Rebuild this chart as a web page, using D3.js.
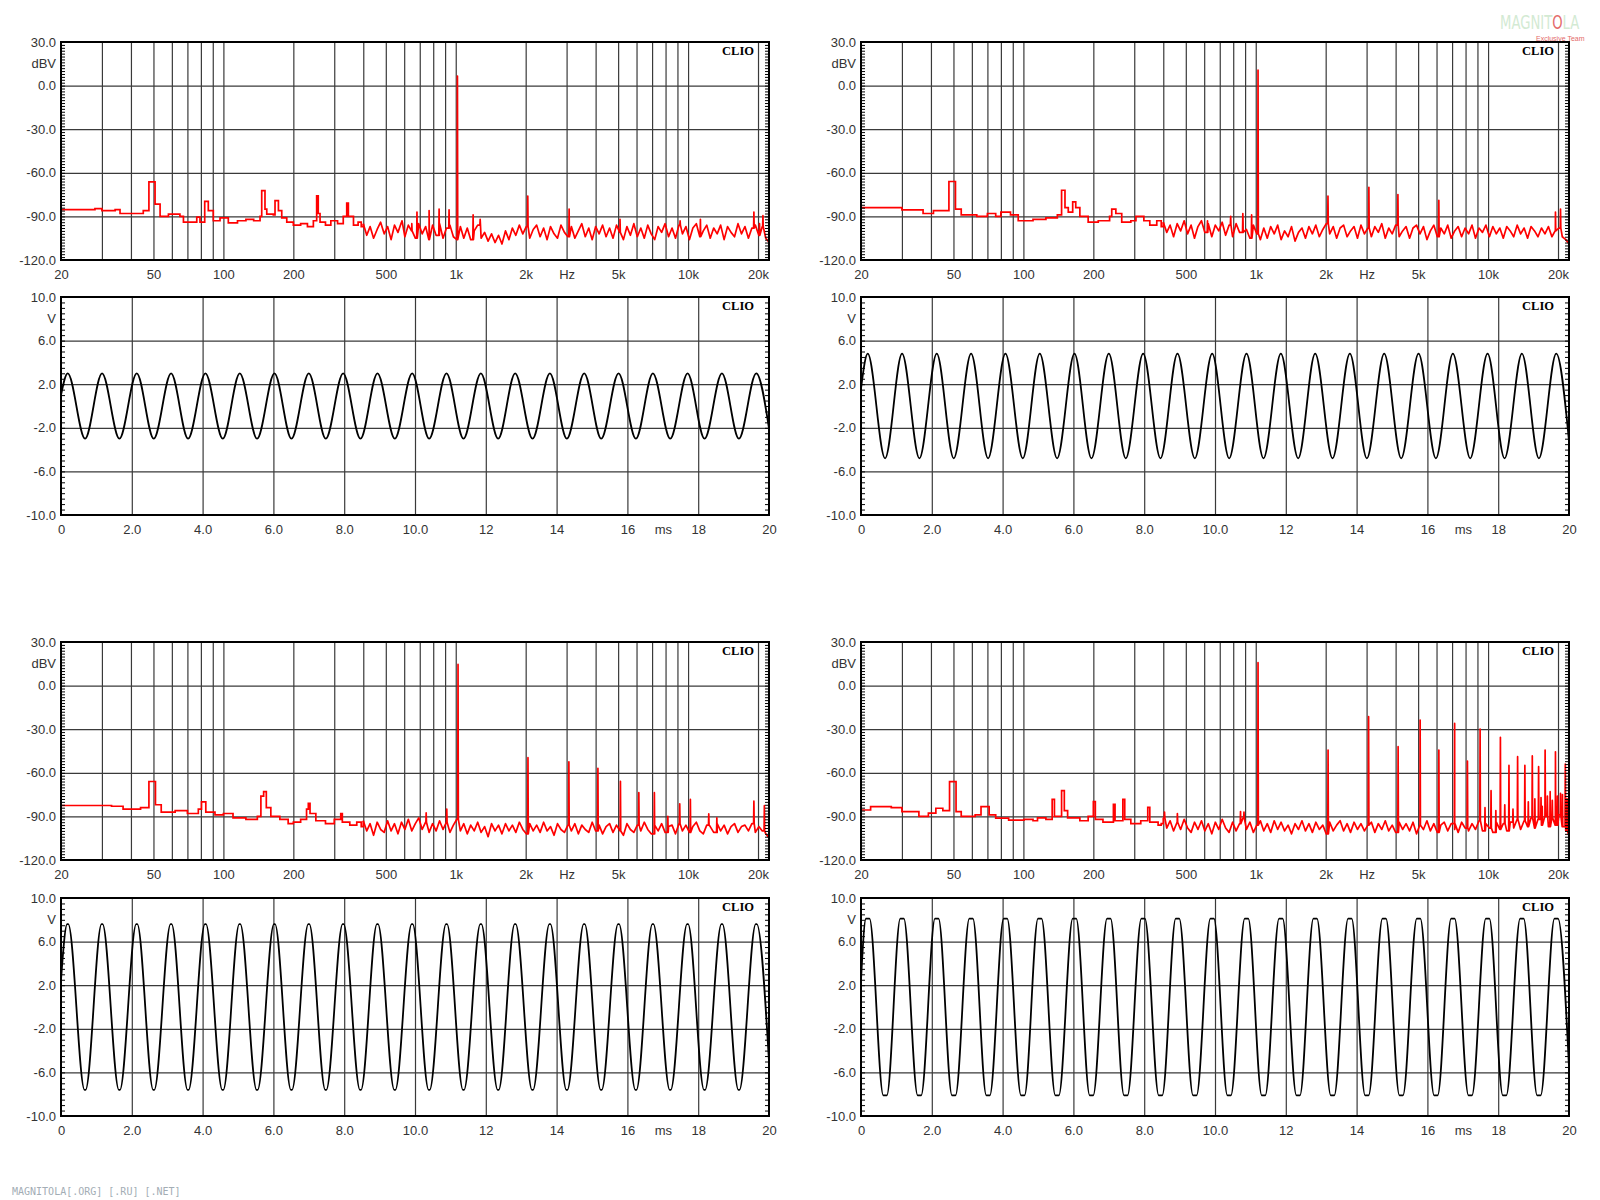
<!DOCTYPE html>
<html>
<head>
<meta charset="utf-8">
<script src="https://cdn.jsdelivr.net/npm/d3@7"></script>
<style>
  body { margin: 0; background: #fff; }
  svg { display: block; }
  .lbl text { font-family: "Liberation Sans", Arial, sans-serif; font-size: 13px; fill: #333; }
  .grid line { stroke: #3a3a3a; stroke-width: 1.2; }
  .minor line { stroke: #000; stroke-width: 1; }
  .clio { font-family: "Liberation Serif", "Times New Roman", serif; font-weight: bold; font-size: 12.5px; fill: #000; }
  .footer { font-family: "DejaVu Sans Mono", monospace; font-size: 10px; fill: #a3adb5; }
</style>
</head>
<body>
<svg id="chart" width="1600" height="1200"></svg>
<script>
// ---- axes / ticks ----
const freqGrid = [30, 40, 50, 60, 70, 80, 90, 100, 200, 300, 400, 500, 600, 700, 800, 900,
  1000, 2000, 3000, 4000, 5000, 6000, 7000, 8000, 9000, 10000, 20000];
const freqLabels = [[20, '20'], [50, '50'], [100, '100'], [200, '200'], [500, '500'], [1000, '1k'],
  [2000, '2k'], [3000, 'Hz'], [5000, '5k'], [10000, '10k'], [20000, '20k']];
const dbGrid = [0, -30, -60, -90];
const dbLabels = [[30, '30.0'], [15, 'dBV'], [0, '0.0'], [-30, '-30.0'], [-60, '-60.0'], [-90, '-90.0'], [-120, '-120.0']];
const timeGrid = [2, 4, 6, 8, 10, 12, 14, 16, 18];
const timeLabels = [[0, '0'], [2, '2.0'], [4, '4.0'], [6, '6.0'], [8, '8.0'], [10, '10.0'], [12, '12'],
  [14, '14'], [16, '16'], [17, 'ms'], [18, '18'], [20, '20']];
const voltGrid = [6, 2, -2, -6];
const voltLabels = [[10, '10.0'], [8, 'V'], [6, '6.0'], [2, '2.0'], [-2, '-2.0'], [-6, '-6.0'], [-10, '-10.0']];

// ---- spectrum data (Hz, dBV) ----
// shared sampling frequencies of the noise floor above 400 Hz
const noiseFreqs = [400, 414, 428, 443, 459, 475, 492, 509, 527, 545,
  564, 584, 604, 625, 647, 670, 693, 717, 742, 768,
  795, 823, 852, 882, 912, 944, 977, 1011, 1047, 1083,
  1121, 1160, 1201, 1243, 1286, 1331, 1378, 1426, 1476, 1528,
  1581, 1637, 1694, 1753, 1814, 1878, 1944, 2012, 2082, 2155,
  2230, 2308, 2389, 2473, 2559, 2649, 2741, 2837, 2937, 3039,
  3146, 3256, 3370, 3488, 3610, 3736, 3867, 4002, 4142, 4287,
  4437, 4593, 4753, 4920, 5092, 5270, 5455, 5646, 5843, 6048,
  6259, 6478, 6705, 6940, 7183, 7434, 7694, 7964, 8242, 8531,
  8829, 9138, 9458, 9789, 10132, 10487, 10854, 11234, 11627, 12034,
  12455, 12891, 13342, 13809, 14292, 14793, 15310, 15846, 16401, 16975,
  17569, 18184, 18820, 19479, 20161, 20866, 21597, 22353];

// top-left
const tlLow = [[20, -85.4], [28, -84.7], [30, -86], [34.2, -85.4], [35.9, -88], [45.2, -86], [47.8, -66.2],
  [50.8, -81.5], [53.4, -90], [58, -88.4], [65, -90], [67.3, -94], [76.8, -90.5], [79.3, -94], [83.1, -79.7],
  [86.1, -86], [90.5, -93], [96.7, -91], [105, -94.5], [115, -93], [125, -92], [135, -93], [143.8, -90],
  [146.2, -72.3], [151, -85], [153.7, -88.4], [164, -89], [166.8, -79.2], [172.5, -86], [178.3, -91],
  [187.4, -94], [200, -96], [215, -95], [230, -97], [243.9, -93], [252, -75.8], [256, -88], [260.6, -94],
  [275, -96], [290, -93], [310, -95], [328, -90], [339.5, -80.8], [345, -90], [363, -96], [380, -94], [392, -97]];
const tlNoise = [-95, -103, -97, -105, -99, -94, -102, -97, -106, -96,
  -101, -94, -104, -96, -100, -105, -95, -102, -97, -106,
  -96, -103, -95, -105, -98, -96, -104, -106, -97, -105,
  -98, -106, -100, -96, -105, -101, -107, -102, -108, -103,
  -109, -100, -106, -98, -103, -96, -102, -97, -105, -99,
  -96, -104, -98, -106, -97, -102, -105, -96, -101, -104,
  -97, -105, -100, -95, -104, -98, -106, -97, -102, -96,
  -104, -98, -105, -96, -101, -106, -97, -103, -95, -104,
  -98, -105, -96, -102, -106, -97, -101, -95, -104, -98,
  -105, -96, -102, -97, -106, -98, -95, -104, -100, -96,
  -105, -98, -102, -96, -106, -97, -101, -104, -95, -102,
  -97, -105, -98, -96, -103, -97, -105, -108];
const tlSpikes = [[587, -93], [647, -95], [681, -87], [768, -86], [848, -85], [936, -85.5], [1017, 6.6],
  [1188, -89], [1274, -92], [2042, -76], [3076, -85], [5094, -92], [9240, -93], [11300, -92],
  [19200, -87], [20300, -95], [21000, -89.5]];

// top-right
const trLow = [[20, -84], [30, -85.5], [37, -88], [41, -86], [47.8, -66], [51, -85], [54, -89], [63, -90],
  [70, -88], [76, -90], [80, -87], [88, -89], [95, -93], [110, -92], [125, -91], [140, -89], [146, -72],
  [151, -84], [156, -87], [163, -80], [168, -84], [175, -90], [190, -94], [210, -93], [235, -90], [240, -85],
  [250, -88], [265, -94], [290, -93], [305, -90], [330, -93], [350, -96], [375, -93], [392, -97]];
const trNoise = [-94, -101, -96, -104, -95, -100, -93, -102, -96, -105,
  -97, -93, -101, -95, -104, -96, -100, -94, -103, -96,
  -104, -95, -101, -94, -99, -105, -96, -102, -106, -98,
  -105, -97, -102, -96, -106, -100, -104, -97, -107, -101,
  -98, -105, -97, -102, -96, -104, -99, -95, -102, -97,
  -105, -98, -96, -104, -100, -97, -105, -96, -102, -98,
  -104, -97, -101, -95, -105, -98, -102, -96, -104, -100,
  -97, -105, -98, -96, -102, -97, -106, -100, -96, -104,
  -98, -102, -96, -105, -100, -97, -104, -98, -102, -96,
  -105, -98, -101, -96, -104, -97, -102, -98, -105, -97,
  -100, -104, -96, -102, -98, -105, -97, -100, -104, -98,
  -102, -97, -104, -100, -98, -104, -106, -109];
const trSpikes = [[620, -93], [780, -90], [880, -88], [960, -89], [1023, 10.6], [2046, -76], [3069, -70],
  [4092, -75], [6138, -79], [19500, -87], [20500, -85]];

// bottom-left
const blLow = [[20, -82.5], [33, -83], [37, -85], [44, -84], [47.8, -66], [51, -82], [54, -87], [62, -86],
  [70, -88], [78, -85], [80.5, -80], [84, -87], [92, -89], [100, -88], [110, -91], [125, -92], [140, -90],
  [145, -76], [149, -73], [153, -84], [160, -90], [175, -92], [190, -95], [200, -94], [215, -92], [228, -85],
  [232, -81], [236, -88], [250, -93], [275, -95], [300, -92], [320, -88], [325, -94], [350, -96], [375, -94], [392, -97]];
const blNoise = [-93, -100, -95, -103, -94, -99, -101, -93, -100, -95,
  -102, -94, -99, -92, -100, -95, -91, -99, -94, -101,
  -95, -100, -93, -99, -94, -101, -96, -92, -100, -95,
  -102, -96, -100, -94, -101, -97, -104, -95, -100, -96,
  -102, -95, -100, -96, -101, -94, -99, -102, -95, -100,
  -96, -101, -94, -100, -97, -103, -95, -99, -101, -96,
  -100, -95, -102, -96, -99, -101, -94, -100, -96, -102,
  -97, -95, -101, -96, -100, -103, -95, -99, -101, -96,
  -100, -94, -99, -102, -96, -100, -95, -101, -97, -96,
  -102, -95, -100, -96, -101, -97, -94, -100, -102, -96,
  -97, -101, -95, -100, -96, -102, -97, -95, -101, -97,
  -96, -100, -95, -101, -97, -100, -102, -105];
const blSpikes = [[746, -87.6], [915, -85], [1023, 14.6], [2046, -49.6], [3069, -52.4], [4092, -56.9],
  [5115, -65.9], [6138, -73.7], [7161, -73.7], [8184, -90], [9207, -81.3], [10230, -78.3], [12276, -88.3],
  [13300, -91], [19200, -79.5], [21300, -82.6]];

// bottom-right
const brLow = [[20, -85.6], [22, -83.3], [27, -84], [30, -86.7], [35.5, -90], [39, -87.8], [42, -84.4], [45, -86],
  [48.1, -66.1], [51.3, -86.7], [54, -90], [62, -89], [65.7, -83.3], [71.2, -89], [76, -91.2], [86.4, -92.5],
  [100.6, -92], [110, -93], [115, -91], [125, -92], [133, -78.3], [136, -90], [146, -72.3], [150, -86],
  [155, -91], [175, -93], [190, -90], [200, -79.9], [204, -92], [220, -94], [244, -81.7], [248, -93],
  [268, -78.3], [273, -92], [290, -95], [320, -93], [343, -83.8], [350, -94], [380, -96], [392, -95]];
const brNoise = [-91, -98, -93, -100, -94, -99, -92, -98, -101, -94,
  -99, -93, -100, -95, -102, -94, -99, -92, -98, -101,
  -94, -100, -95, -91, -99, -94, -101, -96, -93, -100,
  -95, -101, -93, -99, -94, -100, -96, -102, -95, -99,
  -93, -100, -95, -101, -94, -99, -96, -102, -94, -100,
  -96, -93, -100, -95, -101, -94, -99, -95, -100, -96,
  -94, -101, -95, -99, -93, -100, -96, -101, -94, -99,
  -95, -100, -94, -102, -96, -99, -93, -100, -95, -101,
  -96, -94, -100, -95, -99, -101, -94, -98, -100, -95,
  -99, -93, -100, -95, -98, -101, -94, -99, -95, -100,
  -94, -98, -92, -99, -93, -97, -91, -98, -92, -96,
  -90, -97, -91, -96, -89, -97, -100, -104];
const brSpikes = [[405, -87], [460, -88], [860, -86.7], [890, -87], [1023, 15.8], [2048, -44.3], [3060, -21.4],
  [4100, -42], [5100, -23.7], [6140, -44.3], [7180, -26], [8150, -51.9], [9240, -29.9], [10300, -72.3],
  [11300, -35.6], [12300, -54.9], [13400, -48.9], [14400, -54.9], [15500, -48.4], [16500, -55.8],
  [17600, -44.3], [18500, -73], [19500, -45.5], [20500, -74.1], [21500, -54],
  [9700, -84], [10800, -86], [11800, -82], [12800, -85], [14900, -80], [15900, -78], [16900, -77],
  [17100, -83], [18000, -76], [18900, -79], [19900, -76], [20900, -75], [21900, -78]];

// ---- waveform data (ms, V) : extrema ----
const peakTimes = [0.19, 1.16, 2.14, 3.11, 4.08, 5.05, 6.03, 7.00, 7.97, 8.94, 9.92, 10.89, 11.86,
  12.83, 13.81, 14.78, 15.75, 16.72, 17.70, 18.67, 19.64];
const troughTimes = [0.68, 1.65, 2.62, 3.59, 4.57, 5.54, 6.51, 7.48, 8.46, 9.43, 10.40, 11.37, 12.35,
  13.32, 14.29, 15.26, 16.24, 17.21, 18.18, 19.15];
const waveAmplitude = { tl: 3.0, tr: 4.8, bl: 7.6, br: 8.1 };
const waveStart = { tl: 1.0, tr: 1.6, bl: 2.5, br: 2.5 };
const waveEnd = { tl: -2.05, tr: -3.2, bl: -5.0, br: -5.5 };
const wavePlateau = { tl: 0, tr: 0, bl: 0.03, br: 0.1 }; // width (ms) of flattened tops

// ---- layout ----
const W = 708, H = 218;
const svg = d3.select('#chart');
const defs = svg.append('defs');

function addGrid(g, axis) {
  const a = g.append('g').attr('class', 'grid').call(axis);
  a.select('.domain').remove();
  a.selectAll('text').remove();
}

function addLabels(g, axis) {
  const a = g.append('g').attr('class', 'lbl').call(axis);
  a.select('.domain').remove();
  a.selectAll('line').remove();
}

function frame(g, id, y) {
  // minor ticks on the left / right borders
  const minor = y.ticks(50);
  const l = g.append('g').attr('class', 'minor').call(d3.axisLeft(y).tickValues(minor).tickSize(-4).tickFormat(''));
  l.select('.domain').remove();
  const r = g.append('g').attr('class', 'minor').attr('transform', `translate(${W},0)`)
    .call(d3.axisRight(y).tickValues(minor).tickSize(-4).tickFormat(''));
  r.select('.domain').remove();
  g.append('rect').attr('width', W).attr('height', H)
    .attr('fill', 'none').attr('stroke', '#000').attr('stroke-width', 2);
  g.append('text').attr('class', 'clio').attr('x', W - 15).attr('y', 13)
    .attr('text-anchor', 'end').text('CLIO');
  defs.append('clipPath').attr('id', id).append('rect').attr('width', W).attr('height', H);
}

function drawSpectrum(px, py, id, low, noise, spikes) {
  const g = svg.append('g').attr('transform', `translate(${px},${py})`);
  const x = d3.scaleLog().domain([20, 22300]).range([0, W]);
  const y = d3.scaleLinear().domain([-120, 30]).range([H, 0]);

  addGrid(g, d3.axisBottom(x).tickValues(freqGrid).tickSize(H).tickFormat(''));
  addGrid(g, d3.axisLeft(y).tickValues(dbGrid).tickSize(-W).tickFormat(''));

  // low part: FFT bins as stairs
  const stairs = low.concat([[noiseFreqs[0], noise[0]]]);
  // upper part: noise floor with spikes
  const pts = noiseFreqs.map((f, i) => [f, noise[i]]);
  spikes.forEach(([f, v]) => {
    const i = Math.max(0, d3.bisectRight(noiseFreqs, f) - 1);
    const floor = noise[i];
    pts.push([f / 1.003, floor], [f, v], [f * 1.003, floor]);
  });
  pts.sort((a, b) => a[0] - b[0]);

  const plot = g.append('g').attr('clip-path', `url(#${id})`);
  plot.append('path').datum(stairs)
    .attr('d', d3.line().x(d => x(d[0])).y(d => y(d[1])).curve(d3.curveStepAfter))
    .attr('fill', 'none').attr('stroke', '#ff0000').attr('stroke-width', 1.7);
  plot.append('path').datum(pts)
    .attr('d', d3.line().x(d => x(d[0])).y(d => y(d[1])))
    .attr('fill', 'none').attr('stroke', '#ff0000').attr('stroke-width', 1.7).attr('stroke-linejoin', 'round');

  frame(g, id, y);

  addLabels(g, d3.axisLeft(y).tickValues(dbLabels.map(d => d[0]))
    .tickFormat((d, i) => dbLabels[i][1]).tickSize(0).tickPadding(5));
  const xl = g.append('g').attr('transform', `translate(0,${H})`);
  addLabels(xl, d3.axisBottom(x).tickValues(freqLabels.map(d => d[0]))
    .tickFormat((d, i) => freqLabels[i][1]).tickSize(0).tickPadding(10));
}

function drawWave(px, py, id, key) {
  const g = svg.append('g').attr('transform', `translate(${px},${py})`);
  const x = d3.scaleLinear().domain([0, 20]).range([0, W]);
  const y = d3.scaleLinear().domain([-10, 10]).range([H, 0]);

  addGrid(g, d3.axisBottom(x).tickValues(timeGrid).tickSize(H).tickFormat(''));
  addGrid(g, d3.axisLeft(y).tickValues(voltGrid).tickSize(-W).tickFormat(''));

  const a = waveAmplitude[key];
  const hw = wavePlateau[key] / 2;
  const pts = [[0, waveStart[key]]];
  peakTimes.forEach(t => { if (hw) pts.push([t - hw, a], [t + hw, a]); else pts.push([t, a]); });
  troughTimes.forEach(t => { if (hw) pts.push([t - hw, -a], [t + hw, -a]); else pts.push([t, -a]); });
  pts.push([20, waveEnd[key]]);
  pts.sort((p, q) => p[0] - q[0]);

  g.append('g').attr('clip-path', `url(#${id})`).append('path').datum(pts)
    .attr('d', d3.line().x(d => x(d[0])).y(d => y(d[1])).curve(d3.curveMonotoneX))
    .attr('fill', 'none').attr('stroke', '#000').attr('stroke-width', 1.8);

  frame(g, id, y);

  addLabels(g, d3.axisLeft(y).tickValues(voltLabels.map(d => d[0]))
    .tickFormat((d, i) => voltLabels[i][1]).tickSize(0).tickPadding(5));
  const xl = g.append('g').attr('transform', `translate(0,${H})`);
  addLabels(xl, d3.axisBottom(x).tickValues(timeLabels.map(d => d[0]))
    .tickFormat((d, i) => timeLabels[i][1]).tickSize(0).tickPadding(10));
}

drawSpectrum(61, 42, 'c1', tlLow, tlNoise, tlSpikes);
drawWave(61, 297, 'c2', 'tl');
drawSpectrum(861, 42, 'c3', trLow, trNoise, trSpikes);
drawWave(861, 297, 'c4', 'tr');
drawSpectrum(61, 642, 'c5', blLow, blNoise, blSpikes);
drawWave(61, 898, 'c6', 'bl');
drawSpectrum(861, 642, 'c7', brLow, brNoise, brSpikes);
drawWave(861, 898, 'c8', 'br');

// watermark logo + footer
const logo = svg.append('text')
  .attr('transform', 'translate(1500,29) scale(0.66,1)')
  .attr('font-family', 'DejaVu Sans, sans-serif').attr('font-size', 20);
logo.append('tspan').attr('fill', '#d3ead3').text('MAGNIT');
logo.append('tspan').attr('fill', '#e46a6a').text('O');
logo.append('tspan').attr('fill', '#d3ead3').text('LA');
svg.append('text').attr('x', 1536).attr('y', 41)
  .attr('font-family', 'Liberation Sans, sans-serif').attr('font-size', 7)
  .attr('fill', '#e46a6a').text('Exclusive Team');

svg.append('text').attr('class', 'footer').attr('x', 12).attr('y', 1195)
  .text('MAGNITOLA[.ORG] [.RU] [.NET]');
</script>
</body>
</html>
